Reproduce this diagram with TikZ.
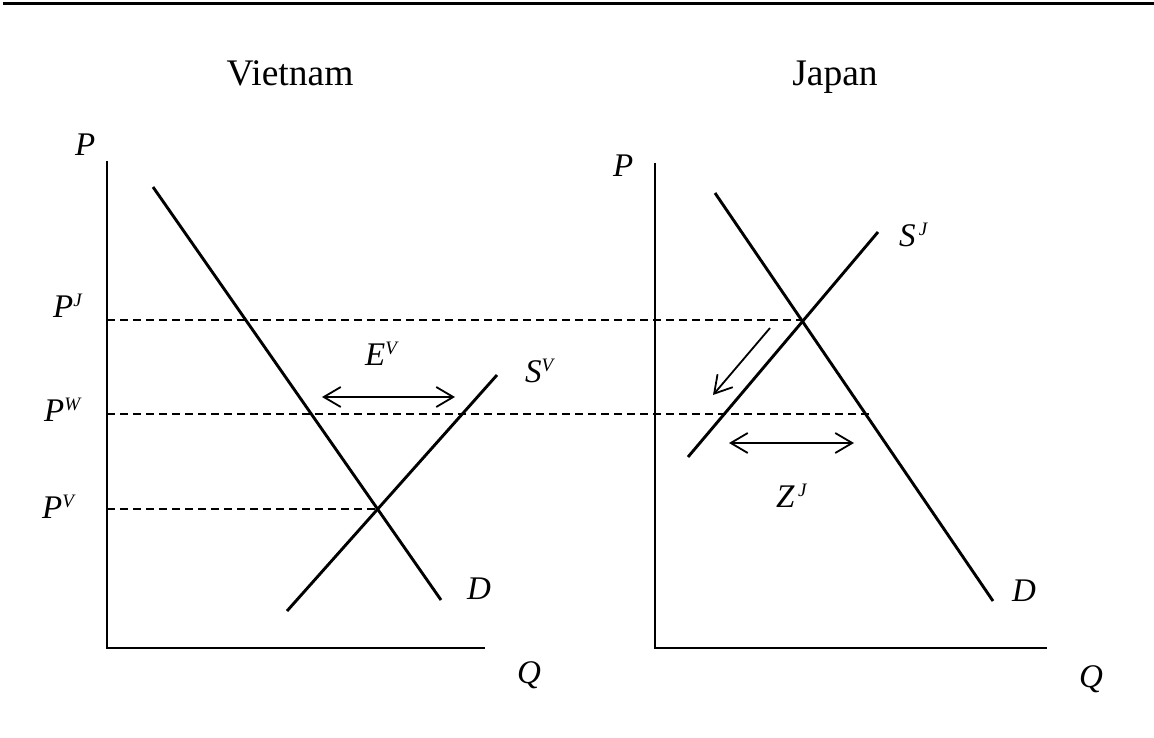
\documentclass[tikz,border=0pt]{standalone}
\usepackage{fontspec}
\setmainfont{Liberation Serif}
\usetikzlibrary{arrows.meta}
\newcommand\suplab[2]{\textit{#1}\raisebox{11pt}{\fontsize{19}{19}\selectfont\textit{#2}}}
\begin{document}
\begin{tikzpicture}[x=1pt,y=-1pt,
  axis/.style={line width=2.4pt},
  curve/.style={line width=2.9pt},
  guide/.style={line width=1.9pt, dash pattern=on 8pt off 5pt},
  barb/.tip={Straight Barb[length=17pt,width=20pt]},
  dbl/.style={line width=1.8pt, barb-barb},
  sgl/.style={line width=1.8pt, -barb},
  lab/.style={anchor=base west, inner sep=0pt, font=\fontsize{33}{33}\selectfont},
  ttl/.style={anchor=base, inner sep=0pt, font=\fontsize{37.5}{37.5}\selectfont}]
\useasboundingbox (0,0) rectangle (1154,738);
% top rule
\coordinate (r1) at (3,4);
\coordinate (r2) at (1154,4);
\draw[line width=3pt] (r1) -- (r2);
% titles
\node[ttl] (tV) at (290,86) {Vietnam};
\node[ttl] (tJ) at (835,86) {Japan};
% Vietnam axes
\coordinate (vO) at (107,648);
\coordinate (vP) at (107,161);
\coordinate (vQ) at (485,648);
\draw[axis] (vP) -- (vO) -- (vQ);
% Japan axes
\coordinate (jO) at (655,648);
\coordinate (jP) at (655,163);
\coordinate (jQ) at (1047,648);
\draw[axis] (jP) -- (jO) -- (jQ);
% intersections
\coordinate (eV) at (378,509);
\coordinate (eJ) at (802,320);
% guides
\coordinate (gJ) at (107,320);
\coordinate (gW) at (107,414);
\coordinate (gWe) at (870,414);
\coordinate (gV) at (107,509);
\draw[guide] (gJ) -- (eJ);
\draw[guide] (gW) -- (gWe);
\draw[guide] (gV) -- (eV);
% Vietnam curves
\coordinate (vD1) at (153,187);
\coordinate (vD2) at (441,600);
\coordinate (vS1) at (287,611);
\coordinate (vS2) at (497,375);
\draw[curve] (vD1) -- (vD2);
\draw[curve] (vS1) -- (vS2);
% Japan curves
\coordinate (jD1) at (715,193);
\coordinate (jD2) at (993,601);
\coordinate (jS1) at (688,457);
\coordinate (jS2) at (878,232);
\draw[curve] (jD1) -- (jD2);
\draw[curve] (jS1) -- (jS2);
% arrows
\coordinate (ea) at (322,397);
\coordinate (eb) at (455,397);
\draw[dbl] (ea) -- (eb);
\coordinate (za) at (729,443);
\coordinate (zb) at (854,443);
\draw[dbl] (za) -- (zb);
\coordinate (da) at (770,328);
\coordinate (db) at (713,395);
\draw[sgl] (da) -- (db);
% labels
\node[lab] (lPv) at (75,156) {\textit{P}};
\node[lab] (lPj) at (613,177) {\textit{P}};
\node[lab] (lPJ) at (53,317) {\suplab{P}{J}};
\node[lab] (lPW) at (44,421) {\suplab{P}{W}};
\node[lab] (lPV) at (42,518) {\suplab{P}{V}};
\node[lab] (lEV) at (365,365) {\suplab{E}{V}};
\node[lab] (lZJ) at (776,507) {\suplab{Z}{\,J}};
\node[lab] (lSV) at (525,382) {\suplab{S}{V}};
\node[lab] (lSJ) at (899,247) {\suplab{S}{\,J}};
\node[lab] (lDv) at (467,599) {\textit{D}};
\node[lab] (lDj) at (1012,601) {\textit{D}};
\node[lab] (lQv) at (517,683) {\textit{Q}};
\node[lab] (lQj) at (1079,687) {\textit{Q}};
\end{tikzpicture}
\end{document}
